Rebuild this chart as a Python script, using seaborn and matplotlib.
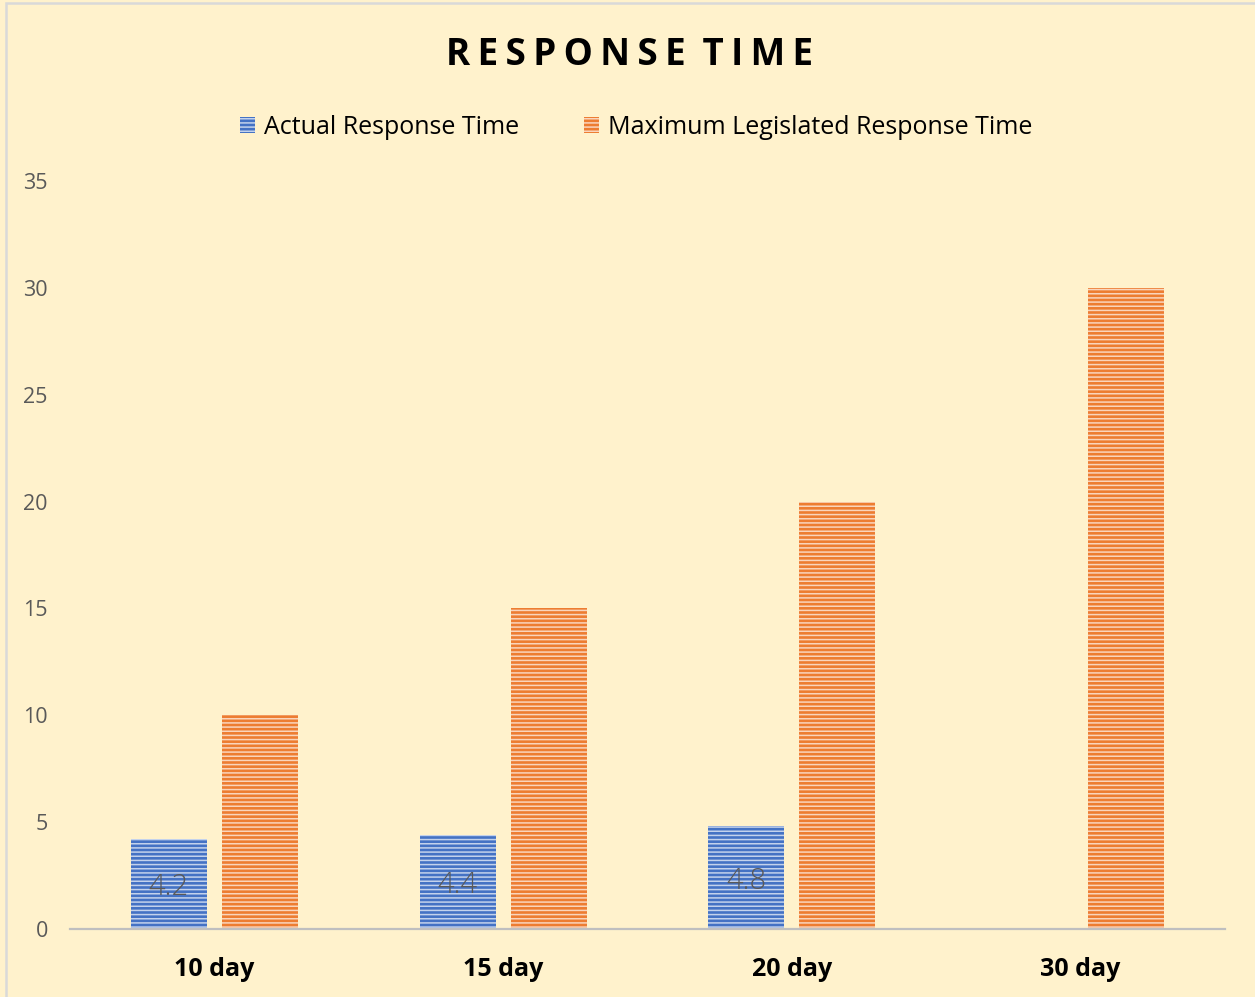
import numpy as np
import pandas as pd
import matplotlib
matplotlib.use("Agg")
import matplotlib.pyplot as plt
from matplotlib.patches import Rectangle
from matplotlib.colors import to_rgb
import seaborn as sns

# Chart data
periods = ["10 day", "15 day", "20 day", "30 day"]
actual_days = [4.2, 4.4, 4.8, np.nan]
max_legislated_days = [10, 15, 20, 30]
series_names = ["Actual Response Time", "Maximum Legislated Response Time"]
y_ticks = [0, 5, 10, 15, 20, 25, 30, 35]
title = "RESPONSE TIME"

BG = "#FFF2CC"
BLUE = "#4472C4"
ORANGE = "#ED7D31"

df = pd.DataFrame({
    "period": periods * 2,
    "days": actual_days + max_legislated_days,
    "series": [series_names[0]] * 4 + [series_names[1]] * 4,
}).dropna()

sns.set_theme(style="white")
plt.rcParams["font.family"] = ["Open Sans", "DejaVu Sans"]
plt.rcParams["hatch.linewidth"] = 1.1

fig = plt.figure(figsize=(12.55, 9.97), dpi=100, facecolor=BG)
ax = fig.add_axes([70 / 1255, 68 / 997, 1155 / 1255, 748 / 997])
ax.set_facecolor(BG)

sns.barplot(data=df, x="period", y="days", hue="series", order=periods,
            hue_order=series_names, palette=[BLUE, ORANGE],
            width=0.63, gap=0.165, legend=False, ax=ax, linewidth=0)


def tint(c, amt):
    r, g, b = to_rgb(c)
    return (r + (1 - r) * amt, g + (1 - g) * amt, b + (1 - b) * amt)


# Horizontal pinstripes on the bars
for cont, col in zip(ax.containers, [BLUE, ORANGE]):
    for p in cont:
        if p is None:
            continue
        p.set_facecolor(col)
        p.set_edgecolor(tint(col, 0.68))
        p.set_linewidth(0)
        p.set_hatch("----")

# Value labels centred on the actual response bars
for p, v in zip([p for p in ax.containers[0] if p is not None],
                [v for v in actual_days if not np.isnan(v)]):
    ax.text(p.get_x() + p.get_width() / 2, v / 2, f"{v:g}",
            ha="center", va="center_baseline", color="#595959", fontsize=21,
            fontweight="light")

ax.set_xlim(-0.5, 3.5)
ax.set_ylim(0, 35)
ax.set_yticks(y_ticks)
ax.set_xlabel("")
ax.set_ylabel("")
for s in ["left", "right", "top"]:
    ax.spines[s].set_visible(False)
ax.spines["bottom"].set_color("#BFBFBF")
ax.spines["bottom"].set_linewidth(1.6)
ax.tick_params(axis="y", length=0, pad=16, labelsize=15.5, labelcolor="#595959")
ax.tick_params(axis="x", length=0, pad=20, labelsize=18, labelcolor="black")
for t in ax.get_xticklabels():
    t.set_fontweight("bold")

handles = [next(p for p in c if p is not None) for c in ax.containers]
leg = fig.legend(handles, series_names, loc="center",
                 bbox_to_anchor=(636 / 1255, 1 - 127 / 997), ncol=2,
                 frameon=False, fontsize=18, handlelength=0.6,
                 handleheight=0.6, handletextpad=0.35, columnspacing=2.6,
                 labelcolor="black")

# Letter-spaced title
spaced_title = "\u2009 ".join("\u2009".join(w) for w in title.split(" "))
fig.text(629 / 1255, 1 - 55 / 997, spaced_title, ha="center",
         va="center", fontsize=26.5, fontweight="bold", color="black")

# Chart area border
fig.patches.append(Rectangle((6 / 1255, -0.01), 1.2, 1 - 3 / 997 + 0.01,
                             transform=fig.transFigure, fill=False,
                             edgecolor="#D9D9D9", linewidth=1.8))

fig.savefig("out.png", dpi=100, facecolor=BG)
